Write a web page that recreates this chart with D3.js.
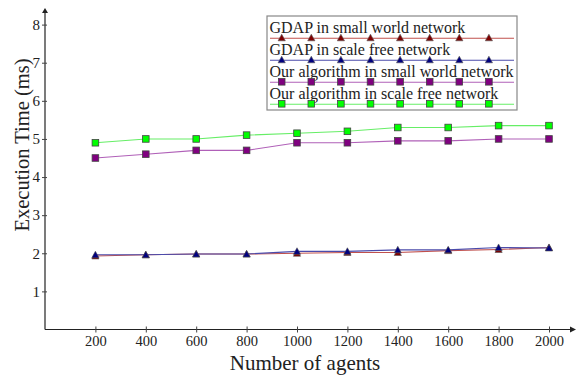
<!DOCTYPE html>
<html>
<head>
<meta charset="utf-8">
<script src="https://cdn.jsdelivr.net/npm/d3@7"></script>
<style>
  body { margin: 0; background: #fff; }
  text { font-family: "Liberation Serif", "Times New Roman", serif; fill: #222; }
</style>
</head>
<body>
<svg id="chart" width="577" height="377"></svg>
<script>
// data
const agents = [200, 400, 600, 800, 1000, 1200, 1400, 1600, 1800, 2000];
const gdapSmallWorld = [1.93, 1.96, 1.98, 1.98, 2.0, 2.02, 2.02, 2.07, 2.1, 2.15];
const gdapScaleFree = [1.96, 1.96, 1.98, 1.98, 2.05, 2.05, 2.09, 2.09, 2.15, 2.14];
const oursSmallWorld = [4.5, 4.6, 4.7, 4.7, 4.9, 4.9, 4.95, 4.95, 5.0, 5.0];
const oursScaleFree = [4.9, 5.0, 5.0, 5.1, 5.15, 5.2, 5.3, 5.3, 5.35, 5.35];
const seriesNames = ["GDAP in small world network", "GDAP in scale free network",
  "Our algorithm in small world network", "Our algorithm in scale free network"];
const yTicks = [1, 2, 3, 4, 5, 6, 7, 8];

var series = [
  {name: seriesNames[0], values: gdapSmallWorld, line: "#c0504d", fill: "#800000", shape: "tri"},
  {name: seriesNames[1], values: gdapScaleFree, line: "#4b4bab", fill: "#000080", shape: "tri"},
  {name: seriesNames[2], values: oursSmallWorld, line: "#b060b8", fill: "#800080", shape: "sq"},
  {name: seriesNames[3], values: oursScaleFree, line: "#66ee66", fill: "#00ff00", shape: "sq"}
];

var svg = d3.select("#chart");

var x = d3.scaleLinear().domain([0, 2000]).range([45, 549]);
var y = d3.scaleLinear().domain([0, 8]).range([329.5, 24.6]);

// axes lines with arrowheads
svg.append("line").attr("x1", x(0)).attr("x2", 574).attr("y1", y(0)).attr("y2", y(0))
  .attr("stroke", "#222").attr("stroke-width", 1.2);
svg.append("path").attr("d", "M576," + y(0) + "l-6,-3v6z").attr("fill", "#222");
svg.append("line").attr("x1", x(0)).attr("x2", x(0)).attr("y1", y(0)).attr("y2", 11)
  .attr("stroke", "#222").attr("stroke-width", 1.2);
svg.append("path").attr("d", "M" + x(0) + ",8l-3,5h6z").attr("fill", "#222");

var xAxis = d3.axisBottom(x).tickValues(agents).tickFormat(d3.format("d")).tickSize(3);
var gx = svg.append("g").attr("transform", "translate(0," + y(0) + ")").call(xAxis);
gx.select(".domain").remove();
gx.selectAll(".tick line").attr("y1", -3).attr("y2", 3).attr("stroke", "#444");
gx.selectAll("text").attr("y", 16.3).attr("dy", null).attr("font-size", 14.5)
  .style("font-family", "Liberation Serif").attr("fill", "#222");

var yAxis = d3.axisLeft(y).tickValues(yTicks).tickSize(3).tickPadding(2);
var gy = svg.append("g").attr("transform", "translate(" + x(0) + ",0)").call(yAxis);
gy.select(".domain").remove();
gy.selectAll(".tick line").attr("x1", -3).attr("x2", 2).attr("stroke", "#444");
gy.selectAll("text").attr("font-size", 15).style("font-family", "Liberation Serif").attr("fill", "#222");

// titles
svg.append("text").attr("x", 305).attr("y", 369.5).attr("text-anchor", "middle")
  .attr("font-size", 21).text("Number of agents");
svg.append("text").attr("transform", "translate(29,145) rotate(-90)").attr("text-anchor", "middle")
  .attr("font-size", 20.5).text("Execution Time (ms)");

function marker(g, shape, fill) {
  if (shape === "tri") {
    g.append("path").attr("d", "M0,-3.6L3.6,3L-3.6,3Z").attr("fill", fill)
      .attr("stroke", "#555").attr("stroke-width", 0.6);
  } else {
    g.append("rect").attr("x", -3.3).attr("y", -3.3).attr("width", 6.6).attr("height", 6.6)
      .attr("fill", fill).attr("stroke", "#444").attr("stroke-width", 0.8);
  }
}

var line = d3.line().x(function(d, i) { return x(agents[i]); }).y(function(d) { return y(d); });

series.forEach(function(s) {
  svg.append("path").datum(s.values).attr("d", line)
    .attr("fill", "none").attr("stroke", s.line).attr("stroke-width", 1.1);
});
series.forEach(function(s) {
  s.values.forEach(function(v, i) {
    var g = svg.append("g").attr("transform", "translate(" + x(agents[i]) + "," + y(v) + ")");
    marker(g, s.shape, s.fill);
  });
});

// legend
var legend = svg.append("g");
legend.append("rect").attr("x", 267).attr("y", 16).attr("width", 250).attr("height", 94)
  .attr("fill", "#fff").attr("stroke", "#888").attr("stroke-width", 1.2);
var legendMarks = d3.range(8).map(function(i) { return 281.7 + i * 29.6; });
series.forEach(function(s, k) {
  var ly = 38.3 + k * 22;
  legend.append("text").attr("x", 269.5).attr("y", ly - 5.5).attr("font-size", 16).text(s.name);
  legend.append("line").attr("x1", 270).attr("x2", 514).attr("y1", ly).attr("y2", ly)
    .attr("stroke", s.line).attr("stroke-width", 1.1);
  legendMarks.forEach(function(mx) {
    var g = legend.append("g").attr("transform", "translate(" + mx + "," + (ly - 0.5) + ")");
    marker(g, s.shape, s.fill);
  });
});
</script>
</body>
</html>
